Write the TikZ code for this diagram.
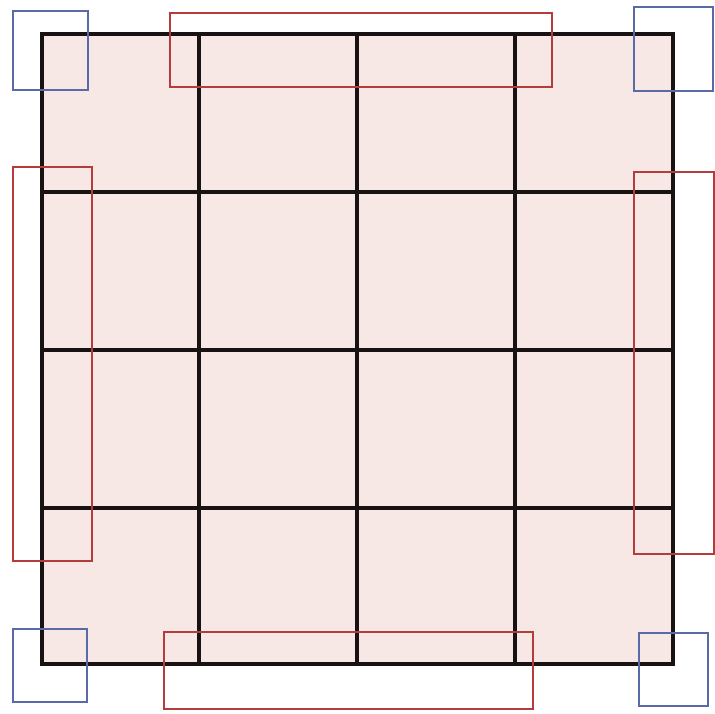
\documentclass[tikz,border=0pt]{standalone}
\definecolor{cellfill}{RGB}{247,232,230}
\definecolor{redbox}{RGB}{180,60,60}
\definecolor{bluebox}{RGB}{90,105,170}
\definecolor{gridline}{RGB}{25,18,18}
\begin{document}
\begin{tikzpicture}[x=1pt,y=-1pt,
  gridl/.style={draw=gridline,line width=3.2pt},
  border/.style={draw=gridline,line width=3.4pt,fill=cellfill},
  rbox/.style={draw=redbox,line width=1.3pt},
  bbox/.style={draw=bluebox,line width=1.3pt}]
\fill[white] (0,0) rectangle (715,713);
\useasboundingbox (0,0) rectangle (715,713);
% grid
\path[border] (42,34) rectangle (673,664);
\foreach \x in {199,357,515} \draw[gridl] (\x,34) -- (\x,664);
\foreach \y in {192,350,508} \draw[gridl] (42,\y) -- (673,\y);
\draw[draw=gridline,line width=3.4pt] (42,34) rectangle (673,664);
% corner boxes
\draw[bbox] (13,11) rectangle (88,90);
\draw[bbox] (634,7) rectangle (713,91);
\draw[bbox] (13,629) rectangle (87,702);
\draw[bbox] (639,633) rectangle (708,706);
% side boxes
\draw[rbox] (170,13) rectangle (552,87);
\draw[rbox] (164,632) rectangle (533,709);
\draw[rbox] (13,167) rectangle (92,561);
\draw[rbox] (634,172) rectangle (714,554);
\end{tikzpicture}
\end{document}
